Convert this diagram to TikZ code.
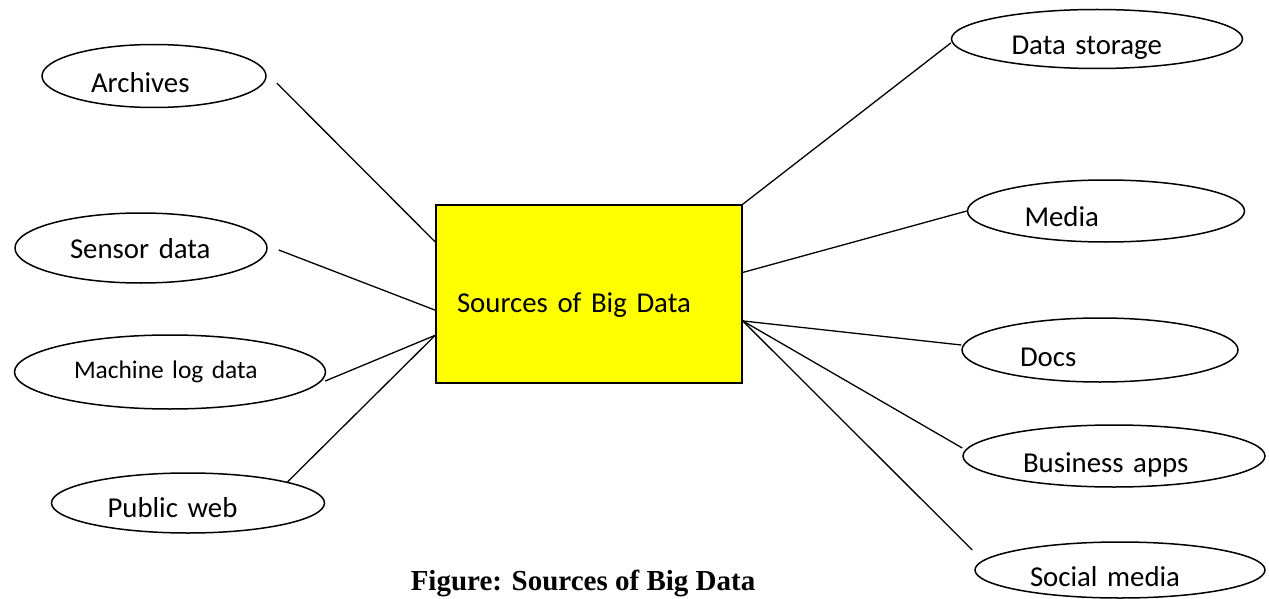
\documentclass[tikz,border=0pt]{standalone}
\usepackage{fontspec}
\setmainfont{Carlito}
\newfontfamily\captionfont{Liberation Serif}
\usetikzlibrary{calc,shapes.geometric}
\definecolor{HubYellow}{RGB}{255,255,0}
\tikzset{
  source/.style={ellipse,draw=black,line width=0.75pt,inner sep=0pt,align=left,text height=16pt,text depth=0pt,font=\fontsize{14.4}{17}\selectfont},
  hub/.style={rectangle,draw=black,line width=0.8pt,fill=HubYellow,inner sep=0pt,align=left,text height=18pt,text depth=0pt,font=\fontsize{14.4}{17}\selectfont},
  link/.style={draw=black,line width=0.65pt}
}
\begin{document}
\begin{tikzpicture}[x=0.5pt,y=-0.5pt]
\useasboundingbox (0,0) rectangle (1269,599);
\node[hub,minimum width=153pt,minimum height=89pt,text width=132pt] (hub) at (589,294) {Sources of Big Data};
% left side
\node[source,minimum width=112pt,minimum height=31.5pt,text width=63pt,text height=17pt] (arch) at (154,76) {Archives};
\node[source,minimum width=126pt,minimum height=35pt,text width=71pt,text height=10pt] (sensor) at (141,248) {Sensor data};
\node[source,minimum width=155.5pt,minimum height=37pt,text width=96pt,text height=6pt,font=\fontsize{12.7}{15}\selectfont] (machine) at (170,372) {Machine log data};
\node[source,minimum width=136.5pt,minimum height=30pt,text width=80.5pt,text height=14pt] (web) at (188,503) {Public web};
% right side
\node[source,minimum width=145.5pt,minimum height=29.5pt,text width=85.5pt] (storage) at (1097,39) {Data storage};
\node[source,minimum width=138.5pt,minimum height=31pt,text width=81.5pt] (media) at (1106,211) {Media};
\node[source,minimum width=138pt,minimum height=32pt,text width=80pt] (docs) at (1100,350) {Docs};
\node[source,minimum width=151pt,minimum height=31pt,text width=91pt] (apps) at (1114,456) {Business apps};
\node[source,minimum width=145pt,minimum height=28pt,text width=90pt] (social) at (1120,570) {Social media};
\draw[link] ([shift={(10,7)}]arch.east) -- ($(hub.north west)!0.21!(hub.south west)$);
\draw[link] ([shift={(11,2)}]sensor.east) -- ($(hub.north west)!0.59!(hub.south west)$);
\draw[link] ([shift={(-1,9)}]machine.east) -- ($(hub.north west)!0.73!(hub.south west)$);
\draw[link] (web.12) -- ($(hub.north west)!0.73!(hub.south west)$);
\draw[link] (hub.north east) -- ([shift={(0,4)}]storage.west);
\draw[link] ($(hub.north east)!0.38!(hub.south east)$) -- (media.west);
\draw[link] ($(hub.north east)!0.65!(hub.south east)$) -- ([shift={(0,-5)}]docs.west);
\draw[link] ($(hub.north east)!0.65!(hub.south east)$) -- ([shift={(0,-8)}]apps.west);
\draw[link] ($(hub.north east)!0.65!(hub.south east)$) -- ([shift={(-2,-20)}]social.west);
\node[anchor=base,font=\captionfont\bfseries\fontsize{14.5}{17}\selectfont] (caption) at (583,590) {Figure: Sources of Big Data};
\end{tikzpicture}
\end{document}
